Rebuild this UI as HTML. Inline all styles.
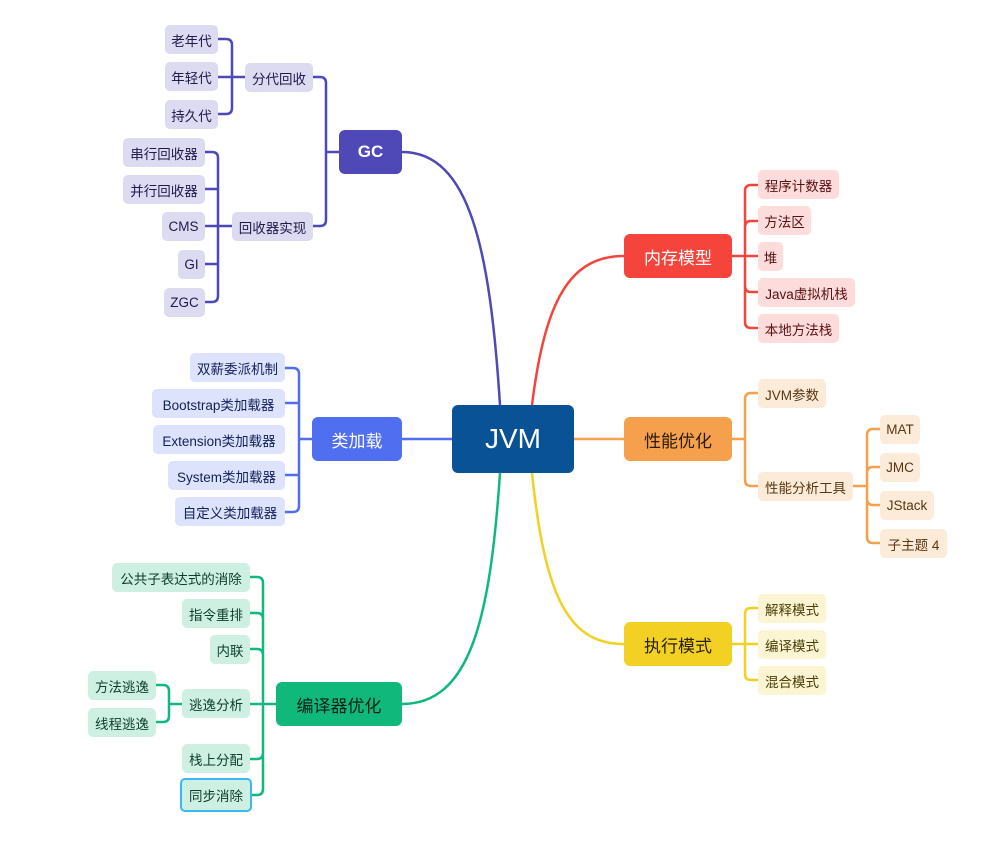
<!DOCTYPE html>
<html><head><meta charset="utf-8"><style>
body{margin:0;width:990px;height:849px;background:#fff;position:relative;overflow:hidden;font-family:"Liberation Sans","Noto Sans CJK SC",sans-serif}
.n{position:absolute;display:flex;align-items:center;justify-content:center;border-radius:5px;font-size:13.5px;box-sizing:border-box;white-space:nowrap}
.m{font-size:17px;color:#fff;border-radius:6px}
.p{background:#dddbf1;color:#1e1a4a}.b{background:#dde3fc;color:#12205a}.g{background:#cdf0e2;color:#0d3d2a}
.r{background:#fddcdb;color:#5a1010}.o{background:#fdebd9;color:#5a3510}.y{background:#fcf5d3;color:#4a3d05}
svg{position:absolute;left:0;top:0}
</style></head><body>
<svg width="990" height="849" fill="none" stroke-width="2.5">
<g stroke="#4f49b8">
<path d="M500 405 C490 250 470 152 402 152"/>
<path d="M339 152 H326 M313 77 H320 Q326 77 326 83 V220 Q326 226 320 226 H313"/>
<path d="M218 77 H245 M218 39 H226 Q232 39 232 45 V108 Q232 114 226 114 H218"/>
<path d="M205 226 H232 M205 152 H212 Q218 152 218 158 V296 Q218 302 212 302 H205 M205 189 H218 M205 264 H218"/>
</g>
<g stroke="#4f6ef0">
<path d="M452 439 H402 M312 439 H299 M285 368 H293 Q299 368 299 374 V506 Q299 512 293 512 H285 M285 403 H299 M285 475 H299"/>
</g>
<g stroke="#10b97b">
<path d="M500 473 C490 620 470 704 402 704"/>
<path d="M276 704 H250 M250 577 H257 Q263 577 263 583 V789 Q263 795 257 795 H252 M250 613 H257 Q263 613 263 619 M250 649 H257 Q263 649 263 655 M250 759 H257 Q263 759 263 753"/>
<path d="M182 704 H169 M156 685 H163 Q169 685 169 691 V716 Q169 722 163 722 H156"/>
</g>
<g stroke="#f5443c">
<path d="M532 405 C545 300 570 256 624 256"/>
<path d="M732 256 H758 M758 185 H751 Q745 185 745 191 V322 Q745 328 751 328 H758 M758 221 H751 Q745 221 745 227 M758 292 H751 Q745 292 745 286"/>
</g>
<g stroke="#f5a04c">
<path d="M574 439 H624 M732 439 H745 M758 393 H751 Q745 393 745 399 V480 Q745 486 751 486 H758"/>
<path d="M853 486 H867 M880 429 H873 Q867 429 867 435 V537 Q867 543 873 543 H880 M880 467 H873 Q867 467 867 473 M880 505 H873 Q867 505 867 499"/>
</g>
<g stroke="#f2d024">
<path d="M532 473 C545 600 570 644 624 644"/>
<path d="M732 644 H758 M758 608 H751 Q745 608 745 614 V674 Q745 680 751 680 H758"/>
</g>
</svg>
<div class="n m" style="left:452px;top:405px;width:122px;height:68px;background:#0a5296;font-size:28px">JVM</div>
<div class="n m" style="left:339px;top:130px;width:63px;height:44px;background:#4f49b8;font-weight:bold">GC</div>
<div class="n m" style="left:312px;top:417px;width:90px;height:44px;background:#4f6ef0">类加载</div>
<div class="n m" style="left:276px;top:682px;width:126px;height:44px;background:#10b97b;color:#0a1f17">编译器优化</div>
<div class="n m" style="left:624px;top:234px;width:108px;height:44px;background:#f5443c">内存模型</div>
<div class="n m" style="left:624px;top:417px;width:108px;height:44px;background:#f5a04c;color:#2a1a05">性能优化</div>
<div class="n m" style="left:624px;top:622px;width:108px;height:44px;background:#f2d024;color:#2a2205">执行模式</div>

<div class="n p" style="left:245px;top:63px;width:68px;height:29px">分代回收</div>
<div class="n p" style="left:232px;top:212px;width:81px;height:29px">回收器实现</div>
<div class="n p" style="left:165px;top:25px;width:53px;height:29px">老年代</div>
<div class="n p" style="left:165px;top:62px;width:53px;height:29px">年轻代</div>
<div class="n p" style="left:165px;top:100px;width:53px;height:29px">持久代</div>
<div class="n p" style="left:123px;top:138px;width:82px;height:29px">串行回收器</div>
<div class="n p" style="left:123px;top:175px;width:82px;height:29px">并行回收器</div>
<div class="n p" style="left:162px;top:212px;width:43px;height:29px">CMS</div>
<div class="n p" style="left:178px;top:250px;width:27px;height:29px">GI</div>
<div class="n p" style="left:164px;top:288px;width:41px;height:29px">ZGC</div>

<div class="n b" style="left:190px;top:353px;width:95px;height:29px">双薪委派机制</div>
<div class="n b" style="left:152px;top:389px;width:133px;height:29px">Bootstrap类加载器</div>
<div class="n b" style="left:153px;top:425px;width:132px;height:29px">Extension类加载器</div>
<div class="n b" style="left:168px;top:461px;width:117px;height:29px">System类加载器</div>
<div class="n b" style="left:175px;top:497px;width:110px;height:29px">自定义类加载器</div>

<div class="n g" style="left:112px;top:563px;width:138px;height:29px">公共子表达式的消除</div>
<div class="n g" style="left:182px;top:599px;width:68px;height:29px">指令重排</div>
<div class="n g" style="left:210px;top:635px;width:40px;height:29px">内联</div>
<div class="n g" style="left:182px;top:689px;width:68px;height:29px">逃逸分析</div>
<div class="n g" style="left:182px;top:744px;width:68px;height:29px">栈上分配</div>
<div class="n g" style="left:180px;top:778px;width:72px;height:34px;border:2px solid #3bb8f0">同步消除</div>
<div class="n g" style="left:88px;top:671px;width:68px;height:29px">方法逃逸</div>
<div class="n g" style="left:88px;top:708px;width:68px;height:29px">线程逃逸</div>

<div class="n r" style="left:758px;top:170px;width:81px;height:29px">程序计数器</div>
<div class="n r" style="left:758px;top:206px;width:53px;height:29px">方法区</div>
<div class="n r" style="left:758px;top:242px;width:25px;height:29px">堆</div>
<div class="n r" style="left:758px;top:278px;width:97px;height:29px">Java虚拟机栈</div>
<div class="n r" style="left:758px;top:314px;width:81px;height:29px">本地方法栈</div>

<div class="n o" style="left:758px;top:379px;width:68px;height:29px">JVM参数</div>
<div class="n o" style="left:758px;top:472px;width:95px;height:29px">性能分析工具</div>
<div class="n o" style="left:880px;top:415px;width:40px;height:29px">MAT</div>
<div class="n o" style="left:880px;top:453px;width:40px;height:29px">JMC</div>
<div class="n o" style="left:880px;top:491px;width:54px;height:29px">JStack</div>
<div class="n o" style="left:880px;top:529px;width:67px;height:29px">子主题 4</div>

<div class="n y" style="left:758px;top:594px;width:68px;height:29px">解释模式</div>
<div class="n y" style="left:758px;top:630px;width:68px;height:29px">编译模式</div>
<div class="n y" style="left:758px;top:666px;width:68px;height:29px">混合模式</div>
</body></html>
